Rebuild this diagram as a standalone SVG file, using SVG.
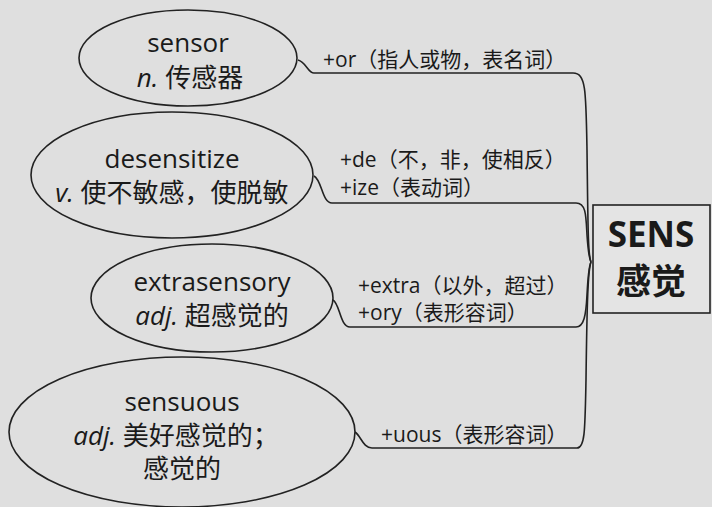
<svg xmlns="http://www.w3.org/2000/svg" width="712" height="507" viewBox="0 0 712 507">
<style>
text{font-family:"Open Sans","Noto Sans CJK SC",sans-serif;fill:#1a1a1a}
.w{font-size:26px;text-anchor:middle}
.l{font-size:21px}
.i{font-style:italic}
.n{fill:none;stroke:#222;stroke-width:1.6}
.c{fill:none;stroke:#222;stroke-width:1.6}
.r{font-size:35px;font-weight:bold;text-anchor:middle}
</style>
<rect width="712" height="507" fill="#dfdfdf"/>
<g id="connectors">
<path class="c" d="M298 60 C306 62 308 73 314 73 L573 73 C586 73 586 90 587 150 C588 230 588 255 591 262"/>
<path class="c" d="M314 176 C322 180 322 203 332 203 L576 203 C586 203 586 215 587 235 C588 250 589 258 591 262"/>
<path class="c" d="M333 300 C340 304 340 327 350 327 L576 327 C584 327 586 315 587 295 C588 275 589 266 591 262"/>
<path class="c" d="M355 432 C361 436 363 448 372 448 L577 448 C585 448 585 430 586 380 C587 300 588 270 591 262"/>
</g>
<g id="root">
<rect x="593" y="205" width="117" height="108" fill="#e4e4e4" stroke="#222" stroke-width="1.6"/>
<text class="r" x="651" y="247">SENS</text>
<text class="r" x="651" y="294">感觉</text>
</g>
<g id="sensor">
<ellipse class="n" cx="188" cy="58" rx="109" ry="48"/>
<text class="w" x="188" y="52">sensor</text>
<text class="w" x="190" y="87"><tspan class="i">n.</tspan> 传感器</text>
</g>
<g id="desensitize">
<ellipse class="n" cx="172" cy="175" rx="141" ry="63"/>
<text class="w" x="172" y="168">desensitize</text>
<text class="w" x="172" y="202"><tspan class="i">v.</tspan> 使不敏感，使脱敏</text>
</g>
<g id="extrasensory">
<ellipse class="n" cx="212" cy="298" rx="121" ry="54"/>
<text class="w" x="212" y="291">extrasensory</text>
<text class="w" x="212" y="325"><tspan class="i">adj.</tspan> 超感觉的</text>
</g>
<g id="sensuous">
<ellipse class="n" cx="182" cy="432" rx="173" ry="75"/>
<text class="w" x="182" y="411">sensuous</text>
<text class="w" x="176" y="445"><tspan class="i">adj.</tspan> 美好感觉的；</text>
<text class="w" x="182" y="478">感觉的</text>
</g>
<g id="labels">
<text class="l" x="323" y="67">+or（指人或物，表名词）</text>
<text class="l" x="340" y="167">+de（不，非，使相反）</text>
<text class="l" x="340" y="195">+ize（表动词）</text>
<text class="l" x="358" y="293">+extra（以外，超过）</text>
<text class="l" x="358" y="320">+ory（表形容词）</text>
<text class="l" x="381" y="442">+uous（表形容词）</text>
</g>
</svg>
